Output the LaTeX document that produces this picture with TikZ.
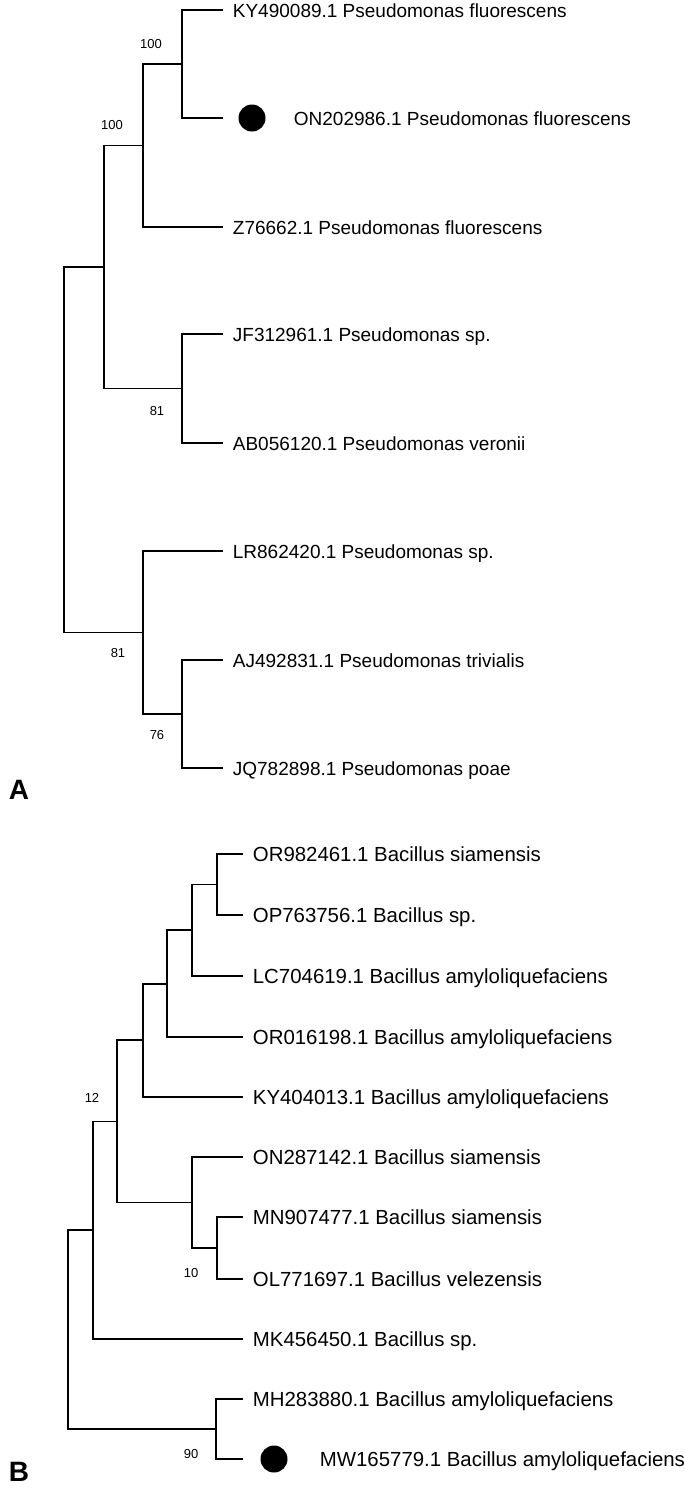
\documentclass[tikz,border=0pt]{standalone}
\usepackage{fontspec}
\setmainfont{Liberation Sans}
\begin{document}
\begin{tikzpicture}[x=1pt,y=-1pt,line width=1.8pt,line cap=rect,
 leafA/.style={anchor=base west,font=\fontsize{19}{19}\selectfont,inner sep=0pt,xshift=10pt,yshift=-7pt},
 leafB/.style={anchor=base west,font=\fontsize{20.4}{20.4}\selectfont,inner sep=0pt,xshift=10pt,yshift=-7pt},
 boot/.style={font=\fontsize{13}{13}\selectfont,inner sep=0pt},
 dot/.style={circle,fill=black,minimum size=27pt,inner sep=0pt},
 panel/.style={font=\bfseries\fontsize{28}{28}\selectfont,inner sep=0pt}]
\useasboundingbox (0,0) rectangle (685,1489);
% ---- A ----
\coordinate (a1) at (222,10); \coordinate (a2) at (222,118);
\coordinate (a3) at (222,227); \coordinate (a4) at (222,334);
\coordinate (a5) at (222,443); \coordinate (a6) at (222,551);
\coordinate (a7) at (222,660); \coordinate (a8) at (222,768);
\node[leafA] at (a1) {KY490089.1 Pseudomonas fluorescens};
\node[dot] (dA) at (252,118) {};
\node[leafA,xshift=61pt] at (a2) {ON202986.1 Pseudomonas fluorescens};
\node[leafA] at (a3) {Z76662.1 Pseudomonas fluorescens};
\node[leafA] at (a4) {JF312961.1 Pseudomonas sp.};
\node[leafA] at (a5) {AB056120.1 Pseudomonas veronii};
\node[leafA] at (a6) {LR862420.1 Pseudomonas sp.};
\node[leafA] at (a7) {AJ492831.1 Pseudomonas trivialis};
\node[leafA] at (a8) {JQ782898.1 Pseudomonas poae};
\coordinate (n1) at (182,64); \coordinate (n2) at (143,145.5);
\coordinate (n3) at (182,388.5); \coordinate (n4) at (104,267);
\coordinate (n5) at (182,714); \coordinate (n6) at (143,632.5);
\coordinate (rA) at (64,449.75);
\draw (n1) |- (a1); \draw (n1) |- (a2);
\draw (n2) |- (n1); \draw (n2) |- (a3);
\draw (n3) |- (a4); \draw (n3) |- (a5);
\draw (n4) |- (n2); \draw (n4) |- (n3);
\draw (n5) |- (a7); \draw (n5) |- (a8);
\draw (n6) |- (a6); \draw (n6) |- (n5);
\draw (rA) |- (n4); \draw (rA) |- (n6);
\node[boot] at (151,44) {100};
\node[boot] at (112,125) {100};
\node[boot] at (157,411) {81};
\node[boot] at (118,653) {81};
\node[boot] at (157,735) {76};
\node[panel] (lA) at (19,790) {A};
% ---- B ----
\foreach \i/\y in {1/854,2/915,3/976,4/1037,5/1097,6/1157,7/1217,8/1279,9/1339,10/1399,11/1459}
  \coordinate (b\i) at (242,\y);
\node[leafB] at (b1) {OR982461.1 Bacillus siamensis};
\node[leafB] at (b2) {OP763756.1 Bacillus sp.};
\node[leafB] at (b3) {LC704619.1 Bacillus amyloliquefaciens};
\node[leafB] at (b4) {OR016198.1 Bacillus amyloliquefaciens};
\node[leafB] at (b5) {KY404013.1 Bacillus amyloliquefaciens};
\node[leafB] at (b6) {ON287142.1 Bacillus siamensis};
\node[leafB] at (b7) {MN907477.1 Bacillus siamensis};
\node[leafB] at (b8) {OL771697.1 Bacillus velezensis};
\node[leafB] at (b9) {MK456450.1 Bacillus sp.};
\node[leafB] at (b10) {MH283880.1 Bacillus amyloliquefaciens};
\node[dot] (dB) at (274,1459) {};
\node[leafB,xshift=67pt] at (b11) {MW165779.1 Bacillus amyloliquefaciens};
\coordinate (m1) at (217,884.5); \coordinate (m2) at (192,930.25);
\coordinate (m3) at (167,983.6); \coordinate (m4) at (143,1040.3);
\coordinate (m5) at (217,1248); \coordinate (m6) at (192,1202.5);
\coordinate (m7) at (117,1121.4); \coordinate (m8) at (93,1230.2);
\coordinate (m9) at (216,1429); \coordinate (rB) at (68,1329.6);
\draw (m1) |- (b1); \draw (m1) |- (b2);
\draw (m2) |- (m1); \draw (m2) |- (b3);
\draw (m3) |- (m2); \draw (m3) |- (b4);
\draw (m4) |- (m3); \draw (m4) |- (b5);
\draw (m5) |- (b7); \draw (m5) |- (b8);
\draw (m6) |- (b6); \draw (m6) |- (m5);
\draw (m7) |- (m4); \draw (m7) |- (m6);
\draw (m8) |- (m7); \draw (m8) |- (b9);
\draw (m9) |- (b10); \draw (m9) |- (b11);
\draw (rB) |- (m8); \draw (rB) |- (m9);
\node[boot] at (92,1098) {12};
\node[boot] at (191,1273) {10};
\node[boot] at (191,1454) {90};
\node[panel] (lB) at (19,1472) {B};
\end{tikzpicture}
\end{document}
